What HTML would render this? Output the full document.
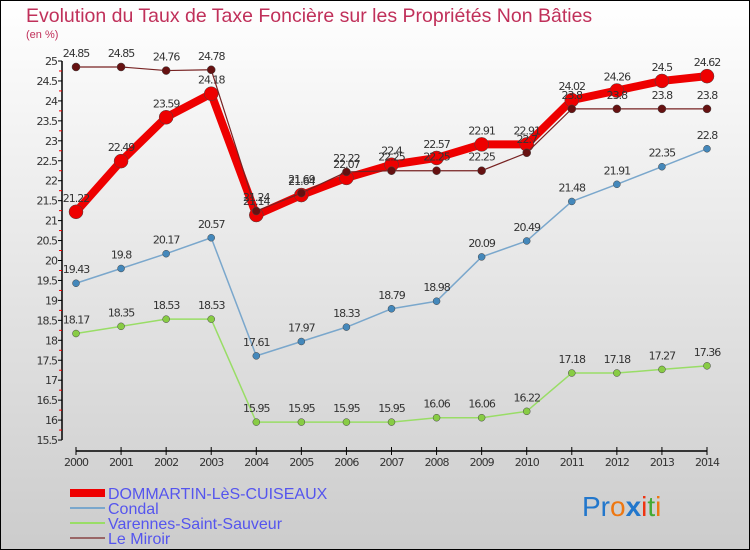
<!DOCTYPE html>
<html><head><meta charset="utf-8"><style>
body{margin:0}
#c{width:750px;height:550px;position:relative;overflow:hidden;font-family:"DejaVu Sans","Liberation Sans",sans-serif;}
</style></head><body>
<div id="c">
<svg id="s" width="750" height="550" xmlns="http://www.w3.org/2000/svg">
<defs><linearGradient id="bg" x1="0" y1="0" x2="0" y2="1"><stop offset="0" stop-color="#ffffff"/><stop offset="1" stop-color="#cccccc"/></linearGradient></defs>
<rect x="0.5" y="0.5" width="749" height="549" fill="url(#bg)" stroke="#000"/>
<text x="26" y="22" font-size="19.5" fill="#c0305a" font-family="Liberation Sans">Evolution du Taux de Taxe Foncière sur les Propriétés Non Bâties</text>
<text x="26" y="38" font-size="11" fill="#c0305a" font-family="Liberation Sans">(en %)</text>
<g id="axes"></g><g id="series"></g>
<g font-family="Liberation Sans">
<rect x="70" y="489" width="35" height="8" fill="#ee0000"/>
<text x="108" y="499" font-size="16" fill="#5555ee">DOMMARTIN-LèS-CUISEAUX</text>
<rect x="70" y="507" width="35" height="2" fill="#7aa7cc"/>
<text x="108" y="514" font-size="16" fill="#5555ee">Condal</text>
<rect x="70" y="522" width="35" height="2" fill="#99dd66"/>
<text x="108" y="529" font-size="16" fill="#5555ee">Varennes-Saint-Sauveur</text>
<rect x="70" y="537" width="35" height="2" fill="#996666"/>
<text x="108" y="544" font-size="16" fill="#5555ee">Le Miroir</text>
</g>
<g font-size="28" font-family="Liberation Sans">
<text x="582" y="516"><tspan fill="#2277cc">Pr</tspan><tspan fill="#ee7711">o</tspan><tspan fill="#2277cc" font-weight="bold">x</tspan><tspan fill="#ee3311">i</tspan><tspan fill="#44aa33">t</tspan><tspan fill="#ee7711">i</tspan></text>
</g>
</svg>
</div>
<script>
const years=[2000,2001,2002,2003,2004,2005,2006,2007,2008,2009,2010,2011,2012,2013,2014];
const yTicks=[15.5,16,16.5,17,17.5,18,18.5,19,19.5,20,20.5,21,21.5,22,22.5,23,23.5,24,24.5,25];
const dommartin=[21.22,22.49,23.59,24.18,21.14,21.64,22.07,22.4,22.57,22.91,22.91,24.02,24.26,24.5,24.62];
const condal=[19.43,19.8,20.17,20.57,17.61,17.97,18.33,18.79,18.98,20.09,20.49,21.48,21.91,22.35,22.8];
const varennes=[18.17,18.35,18.53,18.53,15.95,15.95,15.95,15.95,16.06,16.06,16.22,17.18,17.18,17.27,17.36];
const miroir=[24.85,24.85,24.76,24.78,21.24,21.69,22.22,22.25,22.25,22.25,22.7,23.8,23.8,23.8,23.8];
const NS="http://www.w3.org/2000/svg";
const X=i=>76+i*(707-76)/(years.length-1);
const Y=v=>61+(25-v)*39.9;
function mk(t,a,p){const e=document.createElementNS(NS,t);for(const k in a)e.setAttribute(k,a[k]);p.appendChild(e);return e;}
const ax=document.getElementById('axes');
let e=mk('line',{x1:62,y1:Y(25),x2:62,y2:Y(15.5),stroke:'#000','stroke-width':1.5},ax);


e=mk('line',{x1:X(0),y1:451,x2:X(14),y2:451,stroke:'#000','stroke-width':1.5},ax);


yTicks.forEach(v=>{
 mk('line',{x1:58,y1:Y(v),x2:62,y2:Y(v),stroke:'#000'},ax);
 if(v<25)mk('line',{x1:59,y1:Y(v+0.25),x2:62,y2:Y(v+0.25),stroke:'#e00'},ax);
 const t=mk('text',{x:57,y:Y(v)+4,'font-size':11,'text-anchor':'end',fill:'#333','letter-spacing':'-1'},ax);
 t.textContent=v;
 
 
});
years.forEach((yr,i)=>{
 mk('line',{x1:X(i),y1:447,x2:X(i),y2:455,stroke:'#000'},ax);
 const t=mk('text',{x:X(i),y:466,'font-size':11,'text-anchor':'middle',fill:'#333','letter-spacing':'-1'},ax);
 t.textContent=yr;
 
 
});
const sg=document.getElementById('series');
function draw(vals,name,col,w,r,dot){
 const g=mk('g',{},sg);
 
 
 mk('polyline',{points:vals.map((v,i)=>X(i)+','+Y(v)).join(' '),fill:'none',stroke:col,'stroke-width':w,'stroke-linejoin':'round'},g);
 vals.forEach((v,i)=>{
  const c=mk('circle',{cx:X(i),cy:Y(v),r:r,fill:dot,stroke:'#444','stroke-width':0.5},g);
  
  
  const t=mk('text',{x:X(i),y:Y(v)-10,'font-size':11,'text-anchor':'middle',fill:'#333','letter-spacing':'-1'},g);
  t.textContent=v;
  
  
 });
}
draw(varennes,'varennes','#99dd66',1.5,3.5,'#88cc44');
draw(condal,'condal','#7aa7cc',1.5,3.5,'#4488bb');
draw(dommartin,'dommartin','#ee0000',8,7,'#ee0000');
draw(miroir,'miroir','#772222',1.2,4,'#661111');
</script>
</body></html>
